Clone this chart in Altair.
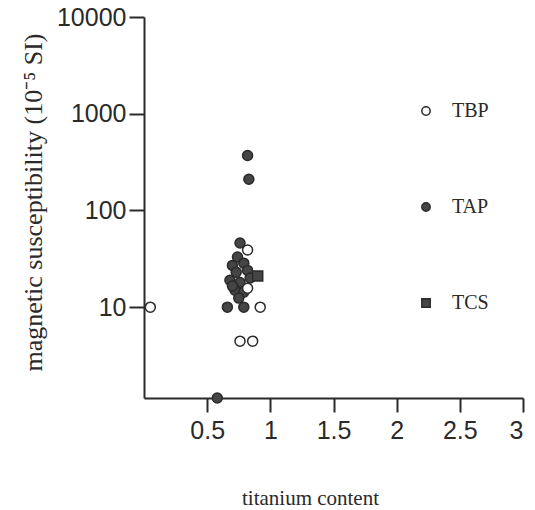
import altair as alt
import pandas as pd

# Titanium content vs magnetic susceptibility, by rock type
tbp_x = [0.05, 0.82, 0.82, 0.92, 0.76, 0.86]
tbp_y = [10, 39, 15.7, 10, 4.45, 4.45]

tap_x = [0.58, 0.66, 0.79, 0.82, 0.83, 0.76, 0.74, 0.70, 0.79, 0.73,
         0.82, 0.68, 0.76, 0.84, 0.72, 0.79, 0.75, 0.70]
tap_y = [1.15, 10, 10, 370, 210, 46, 33, 27, 28.5, 23,
         24, 19, 18, 20, 15, 14.3, 12.4, 16.5]

tcs_x = [0.90]
tcs_y = [21]

groups = ["TBP", "TAP", "TCS"]
shapes = ["circle", "circle", "square"]
fills = ["white", "#454545", "#454545"]

rows = []
for name, xs, ys in [("TAP", tap_x, tap_y), ("TBP", tbp_x, tbp_y), ("TCS", tcs_x, tcs_y)]:
    for x, y in zip(xs, ys):
        rows.append({"ti": x, "chi": y, "type": name})
df = pd.DataFrame(rows)

ink = "#2a2a2a"

chart = alt.Chart(df).mark_point(size=100, strokeWidth=1.5, opacity=1).encode(
    x=alt.X(
        "ti:Q",
        scale=alt.Scale(domain=[0, 3], nice=False, zero=False),
        axis=alt.Axis(
            values=[0.5, 1, 1.5, 2, 2.5, 3], format="~g", grid=False,
            tickSize=14, tickWidth=2, domainWidth=2, labelPadding=6,
            labelFont="Liberation Sans", labelFontSize=25, labelColor=ink,
            domainColor=ink, tickColor=ink,
            title="titanium content", titleFont="Liberation Serif",
            titleFontSize=21, titleFontWeight="normal", titleColor=ink,
            titleX=166, titleY=106, titleAlign="center", titleBaseline="alphabetic",
        ),
    ),
    y=alt.Y(
        "chi:Q",
        scale=alt.Scale(type="log", domain=[1.15, 10000], nice=False),
        axis=alt.Axis(
            values=[10, 100, 1000, 10000], format="d", grid=False,
            tickSize=15, tickWidth=2, domainWidth=2, labelPadding=3,
            labelFont="Liberation Sans", labelFontSize=25, labelColor=ink,
            domainColor=ink, tickColor=ink,
            title="magnetic susceptibility (10⁻⁵ SI)", titleFont="Liberation Serif",
            titleFontSize=26, titleFontWeight="normal", titleColor=ink,
            titleX=-111, titleY=185, titleAngle=270, titleAlign="center",
            titleBaseline="middle",
        ),
    ),
    shape=alt.Shape("type:N", scale=alt.Scale(domain=groups, range=shapes), title=None),
    fill=alt.Fill("type:N", scale=alt.Scale(domain=groups, range=fills), title=None),
    stroke=alt.value(ink),
).properties(
    width=379,
    height=381,
    autosize=alt.AutoSizeParams(type="none"),
    padding={"left": 144, "top": 17, "right": 12, "bottom": 112},
).configure_view(
    stroke=None
).configure_legend(
    orient="none", legendX=272, legendY=84, padding=0, rowPadding=76,
    symbolSize=70, symbolStrokeWidth=1.5, labelOffset=16,
    labelFont="Liberation Serif", labelFontSize=20, labelColor=ink,
)

chart.save("out.html", embed_options={"renderer": "svg", "actions": False})
